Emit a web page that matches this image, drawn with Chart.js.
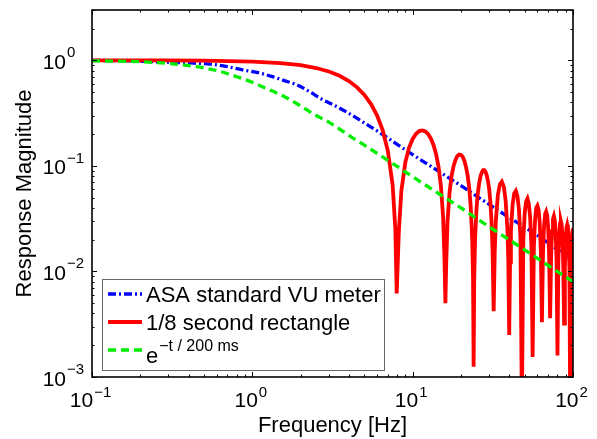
<!DOCTYPE html>
<html>
<head>
<meta charset="utf-8">
<script src="https://cdn.jsdelivr.net/npm/chart.js@4.4.6/dist/chart.umd.min.js"></script>
<style>
  html, body { margin: 0; background: #fff; }
  #wrap { width: 597px; height: 439px; }
</style>
</head>
<body>
<div id="wrap"><canvas id="c"></canvas></div>
<script>
// Frequency response of three level meters.

const FONT = "'Liberation Sans', Arial, Helvetica, sans-serif";

// axis decades (value, exponent text)
const xTickVals = [0.1, 1, 10, 100];
const xTickExps = ['\u22121', '0', '1', '2'];
const yTickVals = [0.001, 0.01, 0.1, 1];
const yTickExps = ['\u22123', '\u22122', '\u22121', '0'];

// ASA standard VU meter (blue, dash-dot)
const blueFreq = [0.1, 0.2, 0.27, 0.4, 0.55, 0.7, 0.88, 1.1, 1.3, 1.6, 1.9, 2.3, 2.7, 3.3, 4, 5, 6.3, 8, 10, 13, 16, 20, 27, 35, 45, 60, 77, 100];
const blueMag  = [1.0, 0.985, 0.965, 0.945, 0.92, 0.87, 0.81, 0.76, 0.71, 0.64, 0.585, 0.5, 0.43, 0.37, 0.315, 0.255, 0.205, 0.16, 0.128, 0.099, 0.081, 0.065, 0.048, 0.037, 0.029, 0.022, 0.0168, 0.0128];

// 1/8 second rectangle (red, solid), one line per lobe
const redFreq = [
  0.1, 0.3, 0.5, 1, 1.5, 2, 2.5, 3, 3.5, 4, 4.5, 5, 5.5, 6, 6.5, 7, 7.5, 7.8, 7.95,
  8.2, 8.5, 9, 9.5, 10, 10.5, 11, 11.5, 12, 12.5, 13, 13.5, 14, 14.5, 15, 15.5, 15.8, 16,
  16.2, 16.5, 17, 17.5, 18, 18.5, 19, 19.5, 20, 20.5, 21, 21.5, 22, 22.5, 23, 23.5, 23.8, 24,
  24.2, 24.5, 25, 25.5, 26, 26.5, 27, 27.5, 28, 28.5, 29, 29.5, 30, 30.5, 31, 31.5, 32,
  32.5, 33, 34, 35, 36, 37, 38, 39, 39.5, 40,
  40.5, 41, 42, 43, 44, 45, 46, 47, 48,
  49, 50, 51, 52, 53, 54, 55, 56,
  57, 58, 59, 60, 61, 62, 63, 64,
  65, 66, 67, 68, 69, 70, 71, 72,
  73, 74, 75, 76, 77, 78, 79, 80,
  81, 82, 83, 84, 85, 86, 87, 88,
  89, 90, 91, 92, 93, 94, 95, 96,
  97, 98, 99, 100];
const redMag = [
  1.0, 0.998, 0.994, 0.974, 0.943, 0.9, 0.846, 0.784, 0.714, 0.637, 0.555, 0.471, 0.385, 0.3, 0.218, 0.139, 0.066, 0.025, 0.0062,
  0.024, 0.058, 0.108, 0.149, 0.18, 0.2015, 0.214, 0.217, 0.212, 0.2, 0.181, 0.157, 0.129, 0.098, 0.065, 0.032, 0.0125, 0.005,
  0.0123, 0.03, 0.057, 0.081, 0.1, 0.114, 0.124, 0.128, 0.127, 0.122, 0.112, 0.098, 0.082, 0.063, 0.042, 0.021, 0.0084, 0.00125,
  0.0082, 0.02, 0.039, 0.0555, 0.069, 0.08, 0.087, 0.091, 0.091, 0.0877, 0.081, 0.0718, 0.06, 0.0464, 0.031, 0.016, 0.0042,
  0.0153, 0.03, 0.053, 0.067, 0.071, 0.064, 0.047, 0.025, 0.0126, 0.0025,
  0.0122, 0.024, 0.043, 0.055, 0.058, 0.052, 0.039, 0.021, 0.0005,
  0.02, 0.036, 0.046, 0.049, 0.044, 0.033, 0.018, 0.00155,
  0.017, 0.031, 0.04, 0.042, 0.0386, 0.029, 0.0155, 0.0033,
  0.015, 0.027, 0.0351, 0.037, 0.0341, 0.026, 0.0137, 0.0036,
  0.0134, 0.024, 0.0314, 0.0335, 0.0306, 0.023, 0.0123, 0.0016,
  0.012, 0.022, 0.0284, 0.03, 0.0277, 0.021, 0.0112, 0.0032,
  0.011, 0.02, 0.0259, 0.0277, 0.0253, 0.019, 0.0103, 0.0005,
  0.01, 0.018, 0.0238, 0.0255];

// e^(-t/200ms) exponential (green, dashed)
const greenFreq = [0.1, 0.2, 0.3, 0.45, 0.6, 0.8, 1, 1.3, 1.6, 2, 2.5, 3, 4, 5, 7, 10, 15, 20, 30, 50, 70, 100];
const greenMag  = [0.99, 0.97, 0.935, 0.87, 0.8, 0.7, 0.62, 0.52, 0.45, 0.37, 0.3, 0.26, 0.195, 0.157, 0.113, 0.079, 0.053, 0.04, 0.0265, 0.016, 0.0114, 0.008];

// legend texts: [main, superscript]
const legendText = [
  ['ASA standard VU meter', ''],
  ['1/8 second rectangle', ''],
  ['e', '\u2212t / 200 ms']
];

const pts = (xs, ys) => xs.map((x, i) => ({x, y: ys[i]}));

// inward ticks on all four sides, box, and 10^n labels
const axisDecor = {
  id: 'axisDecor',
  afterDatasetsDraw(chart){
    const {ctx, chartArea: a, scales: {x, y}} = chart;
    ctx.save();
    ctx.strokeStyle = '#000';
    ctx.lineWidth = 1;
    ctx.beginPath();
    for(let e = -1; e <= 2; e++) for(let m = 1; m <= 9; m++){
      const v = m * Math.pow(10, e);
      if(v < x.min * 0.999 || v > x.max * 1.001) continue;
      const px = Math.round(x.getPixelForValue(v)) + 0.5;
      const len = m === 1 ? 5 : 2.5;
      ctx.moveTo(px, a.bottom); ctx.lineTo(px, a.bottom - len);
      ctx.moveTo(px, a.top); ctx.lineTo(px, a.top + len);
    }
    for(let e = -3; e <= 0; e++) for(let m = 1; m <= 9; m++){
      const v = m * Math.pow(10, e);
      if(v < y.min * 0.999 || v > y.max * 1.001) continue;
      const py = Math.round(y.getPixelForValue(v)) + 0.5;
      const len = m === 1 ? 5 : 2.5;
      ctx.moveTo(a.left, py); ctx.lineTo(a.left + len, py);
      ctx.moveTo(a.right, py); ctx.lineTo(a.right - len, py);
    }
    ctx.stroke();
    ctx.lineWidth = 1.6;
    ctx.strokeRect(a.left, a.top, a.right - a.left, a.bottom - a.top);

    ctx.fillStyle = '#000';
    ctx.textBaseline = 'alphabetic';
    const big = '21px ' + FONT, small = '15px ' + FONT;
    xTickVals.forEach((v, i) => {
      const px = x.getPixelForValue(v);
      ctx.font = big; const w1 = ctx.measureText('10').width;
      ctx.font = small; const w2 = ctx.measureText(xTickExps[i]).width;
      const x0 = px - (w1 + w2) / 2 - 2;
      ctx.font = big; ctx.textAlign = 'left';
      ctx.fillText('10', x0, a.bottom + 30);
      ctx.font = small;
      ctx.fillText(xTickExps[i], x0 + w1 + 1, a.bottom + 20);
    });
    yTickVals.forEach((v, i) => {
      const py = y.getPixelForValue(v);
      ctx.font = big; ctx.textAlign = 'right';
      ctx.fillText('10', 66, py + 8.5);
      ctx.font = small; ctx.textAlign = 'left';
      ctx.fillText(yTickExps[i], 67, py - 3);
    });
    ctx.restore();
  }
};

const legendBox = {
  id: 'legendBox',
  afterDraw(chart){
    const {ctx, chartArea: a} = chart;
    const left = a.left + 10, top = a.bottom - 98, w = 282, h = 91;
    ctx.save();
    ctx.fillStyle = '#fff';
    ctx.fillRect(left, top, w, h);
    ctx.strokeStyle = '#666';
    ctx.lineWidth = 1;
    ctx.strokeRect(left + 0.5, top + 0.5, w, h);
    chart.data.datasets.forEach((ds, i) => {
      const ly = top + 15 + 28 * i;
      ctx.strokeStyle = ds.borderColor;
      ctx.lineWidth = ds.borderWidth;
      ctx.setLineDash(ds.borderDash || []);
      ctx.beginPath();
      ctx.moveTo(left + 6, ly); ctx.lineTo(left + 40, ly);
      ctx.stroke();
      ctx.setLineDash([]);
      const [main, sup] = legendText[i];
      ctx.fillStyle = '#000';
      ctx.textAlign = 'left';
      ctx.textBaseline = 'alphabetic';
      ctx.font = '22px ' + FONT;
      const base = i === 2 ? top + 84 : top + 23 + 28 * i;
      ctx.fillText(main, left + 44, base);
      if(sup){
        const mw = ctx.measureText(main).width;
        ctx.font = '16px ' + FONT;
        ctx.fillText(sup, left + 44 + mw + 1, base - 12);
      }
    });
    ctx.restore();
  }
};

new Chart(document.getElementById('c'), {
  type: 'scatter',
  data: {
    datasets: [
      { label: 'ASA standard VU meter', data: pts(blueFreq, blueMag), showLine: true,
        borderColor: '#0000ff', borderWidth: 3.3, borderDash: [8, 3, 2, 3],
        cubicInterpolationMode: 'monotone', pointRadius: 0, order: 3, clip: 0 },
      { label: '1/8 second rectangle', data: pts(redFreq, redMag), showLine: true,
        borderColor: '#ff0000', borderWidth: 3.8, tension: 0,
        pointRadius: 0, order: 2, clip: 0 },
      { label: 'e^(-t / 200 ms)', data: pts(greenFreq, greenMag), showLine: true,
        borderColor: '#00ee00', borderWidth: 3.3, borderDash: [8, 5],
        cubicInterpolationMode: 'monotone', pointRadius: 0, order: 1, clip: 0 }
    ]
  },
  options: {
    responsive: true,
    maintainAspectRatio: false,
    animation: false,
    devicePixelRatio: 1,
    layout: { padding: { top: 10, right: 24, left: 0, bottom: 0 } },
    plugins: { legend: { display: false }, tooltip: { enabled: false } },
    scales: {
      x: {
        type: 'logarithmic', min: 0.1, max: 100,
        grid: { display: false }, border: { display: false }, ticks: { display: false },
        title: { display: true, text: 'Frequency [Hz]', color: '#000',
                 font: { family: FONT, size: 22 }, padding: { top: 0, bottom: 0 } },
        afterFit(s){ s.height = 62; }
      },
      y: {
        type: 'logarithmic', min: 0.001, max: 3,
        grid: { display: false }, border: { display: false }, ticks: { display: false },
        title: { display: true, text: 'Response Magnitude', color: '#000',
                 font: { family: FONT, size: 22 }, padding: { top: 12, bottom: 0 } },
        afterFit(s){ s.width = 92; }
      }
    }
  },
  plugins: [axisDecor, legendBox]
});
</script>
</body>
</html>
